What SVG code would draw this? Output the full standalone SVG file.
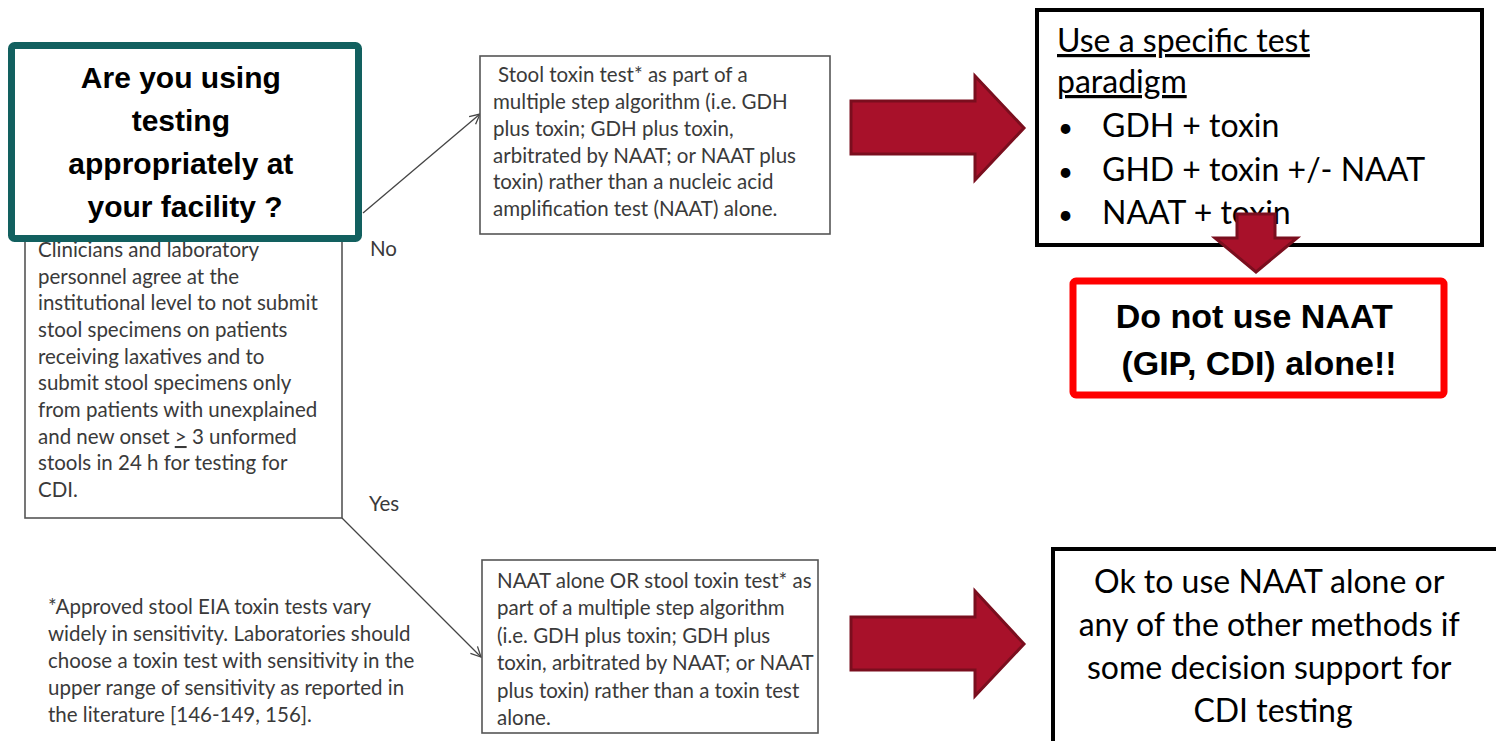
<svg xmlns="http://www.w3.org/2000/svg" width="1496" height="741" viewBox="0 0 1496 741">
  <style>
    .small { font-family: Lato, "Liberation Sans", sans-serif; font-size: 20.5px; fill: #3a3a3a; }
    .big { font-family: Lato, "Liberation Sans", sans-serif; font-size: 32px; fill: #000; }
    .bold { font-family: "Liberation Sans", Arial, sans-serif; font-weight: bold; fill: #000; }
    .graybox { fill: #fff; stroke: #555; stroke-width: 1.6; }
    .conn { stroke: #444; stroke-width: 1.3; fill: none; }
    .redarrow { fill: #a8112a; stroke: #7a0e1e; stroke-width: 3; stroke-linejoin: miter; }
  </style>
  <defs>
    <marker id="open" viewBox="0 0 12 12" refX="11" refY="6" markerWidth="12" markerHeight="12" markerUnits="userSpaceOnUse" orient="auto">
      <polyline points="1,1 11,6 1,11" fill="none" stroke="#444" stroke-width="1.3"/>
    </marker>
  </defs>
  <rect width="1496" height="741" fill="#fff"/>

  <g id="criteria">
    <rect class="graybox" x="25" y="200" width="317" height="318"/>
    <text class="small" x="38">
      <tspan x="38" y="257">Clinicians and laboratory</tspan>
      <tspan x="38" y="284">personnel agree at the</tspan>
      <tspan x="38" y="310">institutional level to not submit</tspan>
      <tspan x="38" y="337">stool specimens on patients</tspan>
      <tspan x="38" y="364">receiving laxatives and to</tspan>
      <tspan x="38" y="390">submit stool specimens only</tspan>
      <tspan x="38" y="417">from patients with unexplained</tspan>
      <tspan x="38" y="444">and new onset <tspan text-decoration="underline">&gt;</tspan> 3 unformed</tspan>
      <tspan x="38" y="470">stools in 24 h for testing for</tspan>
      <tspan x="38" y="497">CDI.</tspan>
    </text>
  </g>

  <g id="question">
    <rect x="11.5" y="45.5" width="347" height="193" rx="3" fill="#fff" stroke="#12605f" stroke-width="7"/>
    <text class="bold" font-size="30" text-anchor="middle">
      <tspan x="185" y="88">Are you using</tspan>
      <tspan x="185" y="131">testing</tspan>
      <tspan x="185" y="174">appropriately at</tspan>
      <tspan x="185" y="217">your facility ?</tspan>
    </text>
  </g>

  <g id="connectors">
    <line class="conn" x1="363" y1="213" x2="480" y2="114" marker-end="url(#open)"/>
    <line class="conn" x1="342" y1="518" x2="481" y2="657" marker-end="url(#open)"/>
  </g>

  <g id="label-no"><text class="small" x="370" y="256">No</text></g>
  <g id="label-yes"><text class="small" x="369" y="511">Yes</text></g>

  <g id="no-test">
    <rect class="graybox" x="480" y="56" width="350" height="178"/>
    <text class="small">
      <tspan x="498" y="82">Stool toxin test* as part of a</tspan>
      <tspan x="493" y="109">multiple step algorithm (i.e. GDH</tspan>
      <tspan x="493" y="136">plus toxin; GDH plus toxin,</tspan>
      <tspan x="493" y="163">arbitrated by NAAT; or NAAT plus</tspan>
      <tspan x="493" y="189">toxin) rather than a nucleic acid</tspan>
      <tspan x="493" y="216">amplification test (NAAT) alone.</tspan>
    </text>
  </g>

  <g id="yes-test">
    <rect class="graybox" x="482" y="560" width="336" height="173"/>
    <text class="small" font-size="20">
      <tspan x="497" y="588">NAAT alone OR stool toxin test* as</tspan>
      <tspan x="497" y="615">part of a multiple step algorithm</tspan>
      <tspan x="497" y="643">(i.e. GDH plus toxin; GDH plus</tspan>
      <tspan x="497" y="670">toxin, arbitrated by NAAT; or NAAT</tspan>
      <tspan x="497" y="698">plus toxin) rather than a toxin test</tspan>
      <tspan x="497" y="725">alone.</tspan>
    </text>
  </g>

  <g id="footnote">
    <text class="small">
      <tspan x="48" y="614">*Approved  stool EIA toxin tests vary</tspan>
      <tspan x="48" y="641">widely in sensitivity. Laboratories should</tspan>
      <tspan x="48" y="668">choose a toxin test with sensitivity in the</tspan>
      <tspan x="48" y="695">upper range of sensitivity as reported in</tspan>
      <tspan x="48" y="722">the literature [146-149, 156].</tspan>
    </text>
  </g>

  <g id="arrow-top">
    <polygon class="redarrow" points="851,101 975,101 975,76 1024,128 975,180 975,154 851,154"/>
  </g>

  <g id="specific-paradigm">
    <rect x="1037" y="10" width="445" height="235" fill="#fff" stroke="#000" stroke-width="4"/>
    <text class="big">
      <tspan x="1057" y="52" text-decoration="underline">Use a specific test</tspan>
      <tspan x="1057" y="93" text-decoration="underline">paradigm</tspan>
    </text>
    <text class="big">
      <tspan x="1058" y="137" font-size="26">•</tspan><tspan x="1102" y="137">GDH + toxin</tspan>
      <tspan x="1058" y="181" font-size="26">•</tspan><tspan x="1102" y="181">GHD + toxin +/- NAAT</tspan>
      <tspan x="1058" y="224" font-size="26">•</tspan><tspan x="1102" y="224">NAAT + toxin</tspan>
    </text>
  </g>

  <g id="arrow-down">
    <polygon class="redarrow" points="1237,214 1275,214 1275,238 1297,238 1256,272 1215,238 1237,238"/>
  </g>

  <g id="do-not">
    <rect x="1073" y="281" width="371" height="114" rx="3" fill="#fff" stroke="#ff0000" stroke-width="7"/>
    <text class="bold" font-size="34" text-anchor="middle">
      <tspan x="1259" y="328">Do not use NAAT</tspan>
      <tspan x="1259" y="375">(GIP, CDI) alone!!</tspan>
    </text>
  </g>

  <g id="arrow-bottom">
    <polygon class="redarrow" points="851,617 975,617 975,591 1024,644 975,696 975,670 851,670"/>
  </g>

  <g id="ok-naat">
    <rect x="1053" y="549" width="460" height="210" fill="#fff" stroke="#000" stroke-width="4"/>
    <text class="big" font-size="33" text-anchor="middle">
      <tspan x="1273" y="593">Ok to use NAAT alone or</tspan>
      <tspan x="1273" y="636">any of the other methods if</tspan>
      <tspan x="1273" y="679">some decision support for</tspan>
      <tspan x="1273" y="722">CDI testing</tspan>
    </text>
  </g>
</svg>
